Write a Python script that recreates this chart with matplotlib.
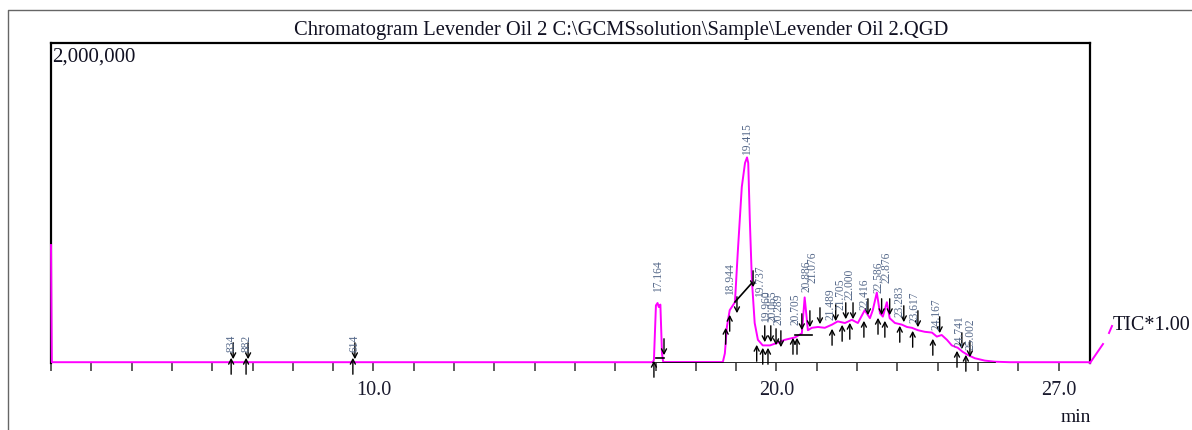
import matplotlib
matplotlib.use('Agg')
import matplotlib.pyplot as plt
from matplotlib.lines import Line2D

plt.rcParams['font.family'] = ['Liberation Serif', 'DejaVu Serif']

# TIC trace (retention time in min, intensity)
trace_t = [2.00, 2.02, 16.93, 16.96, 17.01, 17.05, 17.08, 17.12, 17.16, 17.19,
           18.67, 18.72, 18.77, 18.84, 18.97, 19.04, 19.14, 19.22, 19.27, 19.30,
           19.34, 19.39, 19.46, 19.54, 19.66, 19.84, 20.01, 20.21, 20.46, 20.63,
           20.70, 20.78, 20.88, 21.03, 21.20, 21.38, 21.52, 21.70, 21.87, 22.02,
           22.19, 22.32, 22.39, 22.49, 22.57, 22.64, 22.74, 22.81, 22.94, 23.11,
           23.24, 23.36, 23.51, 23.68, 23.86, 23.98, 24.10, 24.23, 24.35, 24.50,
           24.62, 24.75, 24.92, 25.17, 25.42, 25.79, 27.78]
trace_i = [737000, 5000, 5000, 20000, 360000, 375000, 350000, 365000, 60000, 6000,
           6000, 60000, 225000, 330000, 380000, 690000, 1100000, 1250000, 1285000, 1250000,
           890000, 520000, 250000, 145000, 110000, 110000, 125000, 145000, 160000, 185000,
           410000, 205000, 220000, 225000, 220000, 240000, 260000, 250000, 270000, 250000,
           330000, 280000, 330000, 440000, 310000, 290000, 380000, 280000, 250000, 240000,
           225000, 220000, 205000, 195000, 190000, 165000, 175000, 145000, 110000, 95000,
           70000, 50000, 30000, 15000, 8000, 5000, 5000]

# peak labels
peak_names = ['834', '882', '614', '17.164', '18.944', '19.415', '19.737', '19.960',
              '20.065', '20.289', '20.705', '20.886', '21.076', '21.489', '21.705',
              '22.000', '22.416', '22.586', '22.876', '23.283', '23.617', '24.167',
              '24.741', '25.002']
peak_t = [6.49, 6.86, 9.52, 17.06, 18.84, 19.27, 19.59, 19.74, 19.89, 20.04, 20.48,
          20.75, 20.90, 21.33, 21.60, 21.82, 22.19, 22.52, 22.74, 23.06, 23.43,
          23.98, 24.55, 24.82]
peak_lab_y = [68750, 68750, 68750, 443750, 425000, 1300000, 412500, 256250, 256250,
              237500, 237500, 443750, 500000, 268750, 331250, 393750, 331250, 437500,
              500000, 287500, 250000, 206250, 100000, 81250]

# integration start / end markers
start_t = [6.47, 6.84, 9.49, 16.96, 18.74, 18.84, 19.51, 19.66, 19.79, 20.41, 20.51,
           21.38, 21.63, 21.82, 22.17, 22.52, 22.69, 23.06, 23.38, 23.88, 24.48, 24.70]
start_i = [50000, 50000, 50000, 31250, 237500, 318750, 131250, 112500, 112500, 175000,
           175000, 231250, 256250, 268750, 281250, 300000, 281250, 250000, 218750,
           168750, 93750, 68750]
end_t = [6.52, 6.89, 9.54, 17.21, 19.02, 19.42, 19.71, 19.86, 19.99, 20.11, 20.63,
         20.83, 21.08, 21.47, 21.72, 21.90, 22.27, 22.61, 22.81, 23.16, 23.51, 24.05,
         24.60, 24.80]
end_i = [6250, 6250, 6250, 31250, 293750, 456250, 112500, 112500, 93750, 81250,
         187500, 206250, 225000, 243750, 256250, 256250, 281250, 281250, 281250,
         237500, 206250, 168750, 68750, 18750]

# drawn baselines
base_segs = [((17.00, 17.21), (30000, 30000)),
             ((18.97, 19.39), (381250, 500000)),
             ((20.46, 20.88), (175000, 175000)),
             ((16.93, 25.42), (0, 0))]

fig = plt.figure(figsize=(11.92, 4.30), dpi=100)
ax = fig.add_axes([51 / 1192, 1 - 363 / 430, (1090 - 51) / 1192, (363 - 43) / 430])

ax.plot(trace_t, trace_i, color='#ff00ff', lw=1.4, zorder=3, clip_on=False)

for (xs, ys) in base_segs:
    ax.plot(xs, ys, color='black', lw=1.2, zorder=3.5)

alen = 137500
for t, v in zip(start_t, start_i):
    ax.annotate('', xy=(t, v), xytext=(t, v - alen),
                arrowprops=dict(arrowstyle='->,head_length=0.35,head_width=0.18',
                                color='black', lw=1.0), zorder=4)
for t, v in zip(end_t, end_i):
    ax.annotate('', xy=(t, v), xytext=(t, v + alen),
                arrowprops=dict(arrowstyle='->,head_length=0.35,head_width=0.18',
                                color='black', lw=1.0), zorder=4)

for name, t, v in zip(peak_names, peak_t, peak_lab_y):
    ax.text(t, v, name, rotation=90, ha='center', va='bottom',
            fontsize=8.3, color='#56698a', zorder=5)

ax.set_xlim(2.0, 27.78)
ax.set_ylim(0, 2000000)
ax.set_yticks([])
ax.set_xticks(range(2, 28))
ax.set_xticklabels(['10.0' if x == 10 else '20.0' if x == 20 else '27.0' if x == 27 else ''
                    for x in range(2, 28)])
ax.tick_params(axis='x', direction='out', length=6, width=1.1, pad=7,
               labelsize=14.5, labelcolor='#1a1a2e', color='#333333')
ax.spines['bottom'].set_visible(False)
for s in ['left', 'top', 'right']:
    ax.spines[s].set_linewidth(1.6)

fig.text(621 / 1192, 1 - 30 / 430, 'Chromatogram Levender Oil 2 C:\\GCMSsolution\\Sample\\Levender Oil 2.QGD',
         ha='center', va='center', fontsize=14.8, color='#111122')
fig.text(52 / 1192, 1 - 57 / 430, '2,000,000', ha='left', va='center', fontsize=15, color='#111122')
fig.text(1076 / 1192, 1 - 417 / 430, 'min', ha='center', va='center', fontsize=14, color='#111122')
fig.text(1113 / 1192, 1 - 325 / 430, 'TIC*1.00', ha='left', va='center', fontsize=14.5, color='#111122')

# TIC marker beside the box and outer frame
fig.add_artist(Line2D([1090 / 1192, 1103 / 1192], [1 - 363 / 430, 1 - 344 / 430],
                      transform=fig.transFigure, color='#ff00ff', lw=1.4))
fig.add_artist(Line2D([1109 / 1192, 1112 / 1192], [1 - 333 / 430, 1 - 326 / 430],
                      transform=fig.transFigure, color='#ff00ff', lw=1.4))
fig.add_artist(Line2D([8 / 1192, 8 / 1192, 1.0], [0.0, 1 - 10 / 430, 1 - 10 / 430],
                      transform=fig.transFigure, color='#666666', lw=1.0))

fig.savefig('out.png', dpi=100)
